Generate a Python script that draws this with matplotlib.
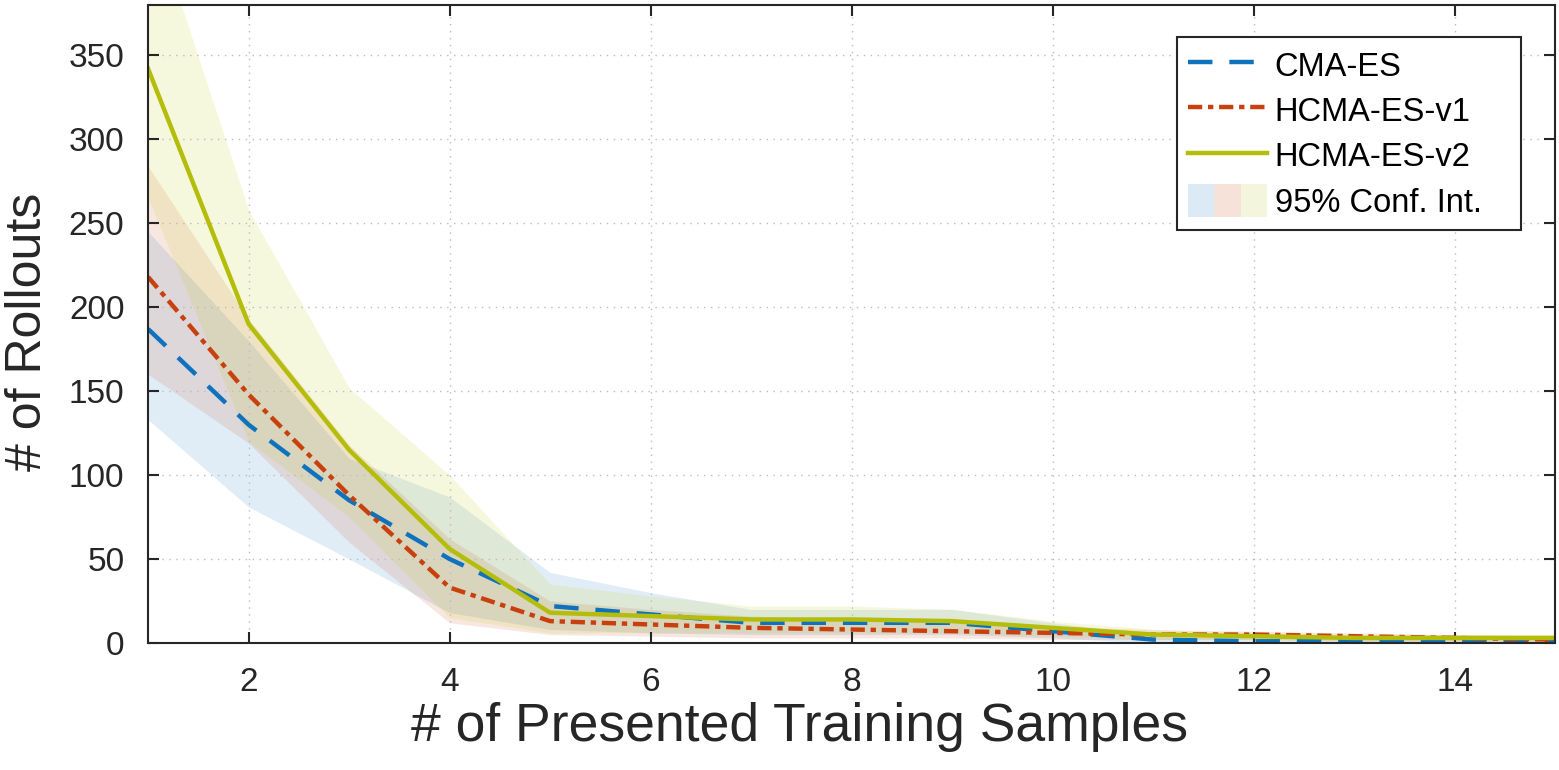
import numpy as np
import matplotlib.pyplot as plt
from matplotlib.patches import Patch
from matplotlib.legend_handler import HandlerTuple

plt.rcParams['font.family'] = ['Liberation Sans', 'DejaVu Sans']

# Daten
samples = np.arange(1, 16)

cma_mean = [187, 130, 85, 50, 22, 17, 12, 12, 12, 7, 2, 1, 1, 1, 1]
cma_low = [133, 81, 50, 18, 8, 6, 5, 5, 5, 3, 0, 0, 0, 0, 0]
cma_high = [245, 180, 110, 87, 42, 30, 20, 20, 20, 12, 5, 3, 3, 3, 3]

v1_mean = [218, 148, 88, 33, 13, 11, 9, 8, 7, 6, 5, 5, 4, 3, 2]
v1_low = [160, 119, 60, 12, 5, 4, 3, 3, 3, 2, 2, 2, 1, 1, 0]
v1_high = [284, 193, 118, 62, 25, 20, 16, 14, 12, 10, 8, 7, 6, 5, 4]

v2_mean = [342, 190, 115, 56, 18, 16, 14, 14, 13, 9, 5, 4, 3, 3, 3]
v2_low = [265, 120, 75, 15, 6, 6, 6, 6, 6, 4, 2, 2, 1, 1, 1]
v2_high = [440, 258, 152, 100, 35, 28, 22, 22, 20, 13, 8, 6, 5, 5, 5]

labels = ['CMA-ES', 'HCMA-ES-v1', 'HCMA-ES-v2', '95% Conf. Int.   ']

c_blue = '#0F72BD'
c_red = '#C8400E'
c_green = '#B4BE0A'
f_blue = '#DCEAF6'
f_red = '#F6E2D8'
f_green = '#F3F5DC'

fig = plt.figure(figsize=(15.59, 7.70), dpi=100)
ax = fig.add_axes([0.095, 0.165, 0.9025, 0.8285])

ax.fill_between(samples, cma_low, cma_high, color=c_blue, alpha=0.12, lw=0)
ax.fill_between(samples, v1_low, v1_high, color=c_red, alpha=0.12, lw=0)
ax.fill_between(samples, v2_low, v2_high, color='#C8D020', alpha=0.15, lw=0)

l1, = ax.plot(samples, cma_mean, color=c_blue, lw=3.2, dashes=(5.5, 3.8))
l2, = ax.plot(samples, v1_mean, color=c_red, lw=3.2, dashes=(3.2, 1.3, 1.2, 1.3))
l3, = ax.plot(samples, v2_mean, color=c_green, lw=3.2)

ax.set_xlim(1, 15)
ax.set_ylim(0, 380)
ax.set_xticks(range(2, 15, 2))
ax.set_yticks(range(0, 351, 50))
ax.grid(True, linestyle=(0, (1, 4)), color='#BBBBBB', lw=1)
ax.tick_params(direction='in', top=True, right=True, length=8, width=1.5,
               labelsize=24, colors='#262626', pad=17)
for s in ax.spines.values():
    s.set_color('#262626')
    s.set_linewidth(1.5)

ax.set_xlabel('# of Presented Training Samples', fontsize=38.5, color='#262626')
ax.set_ylabel('# of Rollouts', fontsize=36, color='#262626')
ax.xaxis.set_label_coords(0.463, -0.092)
ax.yaxis.set_label_coords(-0.069, 0.487)

ci = (Patch(color=f_blue, lw=0), Patch(color=f_red, lw=0), Patch(color=f_green, lw=0))
leg = ax.legend([l1, l2, l3, ci], labels,
                handler_map={tuple: HandlerTuple(ndivide=None, pad=0)},
                loc='upper right', bbox_to_anchor=(0.9755, 0.95), borderaxespad=0,
                fontsize=23.5, handlelength=2.4, handleheight=1.2, fancybox=False,
                framealpha=1, edgecolor='#262626', labelspacing=0.32, handletextpad=0.25,
                borderpad=0.35)
leg.get_frame().set_linewidth(1.5)

plt.savefig('out.png', dpi=100)
